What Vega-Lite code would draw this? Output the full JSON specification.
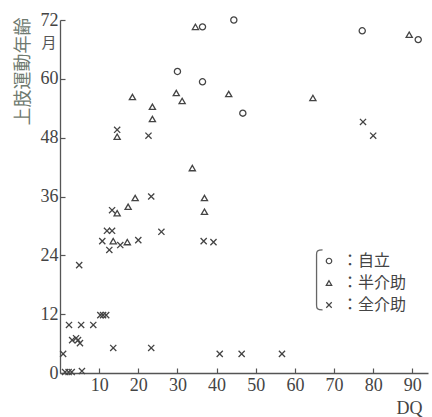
{
  "$schema": "https://vega.github.io/schema/vega-lite/v6.json",
  "width": 368,
  "height": 353,
  "autosize": {"type": "none"},
  "padding": {"left": 60, "top": 20, "right": 4, "bottom": 44},
  "background": "white",
  "config": {"view": {"stroke": null}, "font": "Liberation Serif"},
  "layer": [
    {
      "data": {
        "values": [
          {"type": "自立", "DQ": 36.4, "age": 70.6},
          {"type": "自立", "DQ": 44.4, "age": 72},
          {"type": "自立", "DQ": 30, "age": 61.5},
          {"type": "自立", "DQ": 36.4, "age": 59.4},
          {"type": "自立", "DQ": 46.7, "age": 53},
          {"type": "自立", "DQ": 77.2, "age": 69.8},
          {"type": "自立", "DQ": 91.5, "age": 68},
          {"type": "半介助", "DQ": 34.6, "age": 70.6},
          {"type": "半介助", "DQ": 89.2, "age": 69},
          {"type": "半介助", "DQ": 18.5, "age": 56.3},
          {"type": "半介助", "DQ": 23.6, "age": 54.3},
          {"type": "半介助", "DQ": 23.6, "age": 51.8},
          {"type": "半介助", "DQ": 14.6, "age": 48.2},
          {"type": "半介助", "DQ": 29.7, "age": 57.1},
          {"type": "半介助", "DQ": 31.2, "age": 55.5},
          {"type": "半介助", "DQ": 33.8, "age": 41.8},
          {"type": "半介助", "DQ": 43.1, "age": 56.9},
          {"type": "半介助", "DQ": 64.6, "age": 56.1},
          {"type": "半介助", "DQ": 19.2, "age": 35.7},
          {"type": "半介助", "DQ": 36.9, "age": 35.7},
          {"type": "半介助", "DQ": 36.9, "age": 32.9},
          {"type": "半介助", "DQ": 14.6, "age": 32.6},
          {"type": "半介助", "DQ": 17.4, "age": 33.9},
          {"type": "半介助", "DQ": 13.6, "age": 26.9},
          {"type": "半介助", "DQ": 17.2, "age": 26.7},
          {"type": "全介助", "DQ": 14.6, "age": 49.6},
          {"type": "全介助", "DQ": 22.6, "age": 48.4},
          {"type": "全介助", "DQ": 77.4, "age": 51.2},
          {"type": "全介助", "DQ": 80, "age": 48.4},
          {"type": "全介助", "DQ": 23.3, "age": 36},
          {"type": "全介助", "DQ": 13.3, "age": 33.2},
          {"type": "全介助", "DQ": 12, "age": 29},
          {"type": "全介助", "DQ": 13.3, "age": 29},
          {"type": "全介助", "DQ": 25.9, "age": 28.8},
          {"type": "全介助", "DQ": 36.7, "age": 26.9},
          {"type": "全介助", "DQ": 39.2, "age": 26.7},
          {"type": "全介助", "DQ": 10.8, "age": 26.9},
          {"type": "全介助", "DQ": 12.6, "age": 25.1},
          {"type": "全介助", "DQ": 15.4, "age": 26.1},
          {"type": "全介助", "DQ": 20, "age": 27.1},
          {"type": "全介助", "DQ": 4.9, "age": 22},
          {"type": "全介助", "DQ": 10.3, "age": 11.8},
          {"type": "全介助", "DQ": 11, "age": 11.8},
          {"type": "全介助", "DQ": 11.8, "age": 11.8},
          {"type": "全介助", "DQ": 2.3, "age": 9.8},
          {"type": "全介助", "DQ": 5.4, "age": 9.8},
          {"type": "全介助", "DQ": 8.5, "age": 9.8},
          {"type": "全介助", "DQ": 3.1, "age": 6.7},
          {"type": "全介助", "DQ": 4.1, "age": 7.1},
          {"type": "全介助", "DQ": 4.6, "age": 6.7},
          {"type": "全介助", "DQ": 5.1, "age": 6.1},
          {"type": "全介助", "DQ": 0.8, "age": 3.9},
          {"type": "全介助", "DQ": 13.6, "age": 5.1},
          {"type": "全介助", "DQ": 23.3, "age": 5.1},
          {"type": "全介助", "DQ": 40.8, "age": 3.9},
          {"type": "全介助", "DQ": 46.4, "age": 3.9},
          {"type": "全介助", "DQ": 56.7, "age": 3.9},
          {"type": "全介助", "DQ": 1.3, "age": 0.2},
          {"type": "全介助", "DQ": 2.2, "age": 0.2},
          {"type": "全介助", "DQ": 3, "age": 0.2},
          {"type": "全介助", "DQ": 5.6, "age": 0.4}
        ]
      },
      "mark": {"type": "point", "filled": false, "strokeWidth": 1.3, "size": 38, "color": "#444", "opacity": 1, "clip": false},
      "encoding": {
        "x": {
          "field": "DQ", "type": "quantitative",
          "scale": {"domain": [0, 94], "nice": false, "zero": false},
          "axis": {
            "values": [10, 20, 30, 40, 50, 60, 70, 80, 90],
            "title": "DQ", "grid": false,
            "tickSize": -5, "labelPadding": 8,
            "domainColor": "#555", "tickColor": "#555", "domainWidth": 1.3, "tickWidth": 1.2,
            "labelFont": "Liberation Serif", "labelFontSize": 18, "labelColor": "#444",
            "titleFont": "Liberation Serif", "titleFontSize": 18, "titleFontWeight": "normal", "titleColor": "#444",
            "titleAlign": "right", "titleX": 362, "titleY": 40, "titleBaseline": "alphabetic"
          }
        },
        "y": {
          "field": "age", "type": "quantitative",
          "scale": {"domain": [0, 72], "nice": false},
          "axis": {
            "values": [0, 12, 24, 36, 48, 60, 72],
            "title": "上肢運動年齢", "grid": false,
            "tickSize": -5, "labelPadding": 7,
            "domainColor": "#555", "tickColor": "#555", "domainWidth": 1.3, "tickWidth": 1.2,
            "labelFont": "Liberation Serif", "labelFontSize": 18, "labelColor": "#444",
            "titleFont": "Noto Sans CJK JP", "titleFontSize": 18, "titleFontWeight": "normal", "titleColor": "#6f7a6f",
            "titleX": -37, "titleY": 51, "titleAlign": "center", "titleBaseline": "middle"
          }
        },
        "shape": {
          "field": "type", "type": "nominal",
          "scale": {"domain": ["自立", "半介助", "全介助"], "range": ["circle", "triangle-up", "M-1,-1L1,1M-1,1L1,-1"]},
          "legend": {
            "title": null, "orient": "none", "legendX": 261, "legendY": 233,
            "labelExpr": "'：' + datum.label",
            "labelFont": "Noto Sans CJK JP", "labelFontSize": 16, "labelColor": "#444",
            "symbolStrokeColor": "#444", "symbolStrokeWidth": 1.2, "symbolSize": 30,
            "rowPadding": 6, "labelOffset": 5, "padding": 0
          }
        }
      }
    },
    {
      "data": {"values": [{"label": "月"}]},
      "mark": {"type": "text", "font": "Noto Sans CJK JP", "fontSize": 15, "color": "#555", "align": "center", "baseline": "middle"},
      "encoding": {"text": {"field": "label"}, "x": {"datum": -2.8, "type": "quantitative"}, "y": {"datum": 67.4, "type": "quantitative"}}
    },
    {
      "data": {"values": [{"label": "bracket"}]},
      "mark": {"type": "point", "shape": "M0.1,-1C-0.08,-1 -0.1,-0.95 -0.1,-0.85L-0.1,0.85C-0.1,0.95 -0.08,1 0.1,1", "size": 3600, "filled": false, "strokeWidth": 1.3, "color": "#666", "opacity": 1},
      "encoding": {"x": {"datum": 66.3, "type": "quantitative"}, "y": {"datum": 19, "type": "quantitative"}}
    }
  ]
}
